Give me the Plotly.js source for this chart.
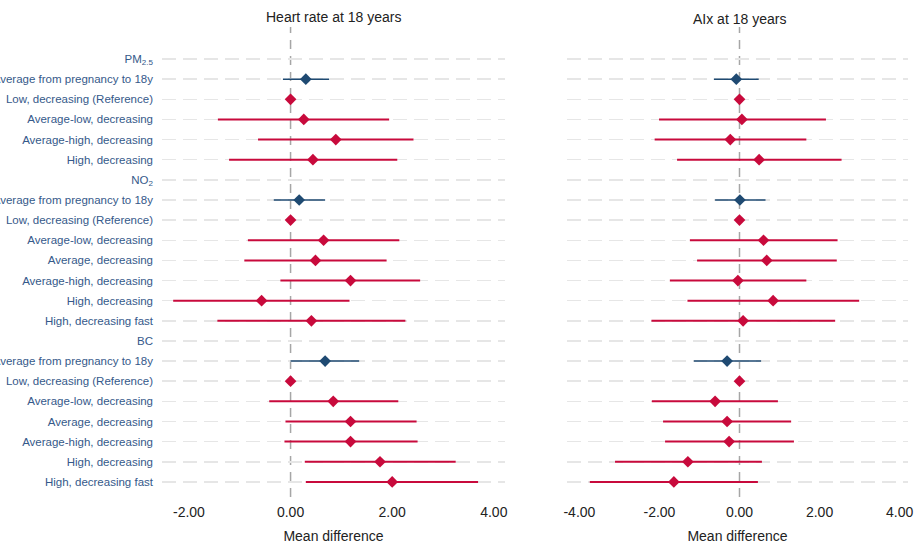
<!DOCTYPE html>
<html>
<head>
<meta charset="utf-8">
<script src="https://cdn.plot.ly/plotly-3.0.1.min.js"></script>
<style>
  html, body { margin: 0; padding: 0; background: #fff; }
  #chart { width: 918px; height: 546px; }
</style>
</head>
<body>
<div id="chart"></div>
<script>
// Row labels, top to bottom (header rows carry no estimate)
const rowLabels = [
  "PM<sub>2.5</sub>",
  "Average from pregnancy to 18y",
  "Low, decreasing (Reference)",
  "Average-low, decreasing",
  "Average-high, decreasing",
  "High, decreasing",
  "NO<sub>2</sub>",
  "Average from pregnancy to 18y",
  "Low, decreasing (Reference)",
  "Average-low, decreasing",
  "Average, decreasing",
  "Average-high, decreasing",
  "High, decreasing",
  "High, decreasing fast",
  "BC",
  "Average from pregnancy to 18y",
  "Low, decreasing (Reference)",
  "Average-low, decreasing",
  "Average, decreasing",
  "Average-high, decreasing",
  "High, decreasing",
  "High, decreasing fast"
];

// Row kind: header, average exposure, or trajectory
const rowKind = [
  "header", "average", "traj", "traj", "traj", "traj",
  "header", "average", "traj", "traj", "traj", "traj", "traj", "traj",
  "header", "average", "traj", "traj", "traj", "traj", "traj", "traj"
];

// Heart rate at 18 years: mean difference and 95% CI
const hrEst = [null, 0.30, 0.00, 0.26, 0.89, 0.44,
               null, 0.17, 0.00, 0.65, 0.49, 1.18, -0.57, 0.41,
               null, 0.68, 0.00, 0.84, 1.18, 1.18, 1.76, 2.00];
const hrLow = [null, -0.15, 0.00, -1.43, -0.64, -1.21,
               null, -0.33, 0.00, -0.84, -0.91, -0.20, -2.31, -1.44,
               null, 0.00, 0.00, -0.42, -0.10, -0.12, 0.28, 0.30];
const hrHigh = [null, 0.76, 0.00, 1.94, 2.42, 2.10,
                null, 0.68, 0.00, 2.14, 1.89, 2.55, 1.16, 2.26,
                null, 1.35, 0.00, 2.12, 2.48, 2.50, 3.25, 3.69];

// AIx at 18 years: mean difference and 95% CI
const aixEst = [null, -0.08, 0.00, 0.06, -0.23, 0.49,
                null, 0.01, 0.00, 0.60, 0.68, -0.04, 0.84, 0.09,
                null, -0.31, 0.00, -0.61, -0.31, -0.26, -1.29, -1.64];
const aixLow = [null, -0.64, 0.00, -2.01, -2.12, -1.56,
                null, -0.61, 0.00, -1.24, -1.06, -1.74, -1.30, -2.20,
                null, -1.14, 0.00, -2.19, -1.91, -1.86, -3.11, -3.74];
const aixHigh = [null, 0.48, 0.00, 2.16, 1.67, 2.55,
                 null, 0.65, 0.00, 2.45, 2.43, 1.67, 2.99, 2.39,
                 null, 0.54, 0.00, 0.96, 1.29, 1.36, 0.56, 0.46];

const xTicks = [-4, -2, 0, 2, 4];
const xTickText = ["-4.00", "-2.00", "0.00", "2.00", "4.00"];

const RED = "#c80a3c";
const BLUE = "#1f4a72";

const rowIdx = rowLabels.map((_, i) => i);

function pointTrace(est, lo, hi, kind, color, lw, xa, ya) {
  const x = [], y = [], plus = [], minus = [];
  est.forEach((v, i) => {
    if (rowKind[i] !== kind || v === null) return;
    x.push(v);
    y.push(i);
    plus.push(hi[i] - v);
    minus.push(v - lo[i]);
  });
  return {
    type: "scatter",
    mode: "markers",
    x: x, y: y,
    xaxis: xa, yaxis: ya,
    marker: { symbol: "diamond", size: 9, color: color },
    error_x: {
      type: "data", symmetric: false,
      array: plus, arrayminus: minus,
      color: color, thickness: lw, width: 0
    },
    hoverinfo: "x",
    showlegend: false
  };
}

const traces = [
  pointTrace(hrEst, hrLow, hrHigh, "traj", RED, 2, "x", "y"),
  pointTrace(hrEst, hrLow, hrHigh, "average", BLUE, 1.5, "x", "y"),
  pointTrace(aixEst, aixLow, aixHigh, "traj", RED, 2, "x2", "y2"),
  pointTrace(aixEst, aixLow, aixHigh, "average", BLUE, 1.5, "x2", "y2")
];

const W = 918, H = 546;
const yDomain = [(H - 497) / H, (H - 27) / H];
const yRange = [21.75, -1.59];
const FONT = "Liberation Sans, Arial, sans-serif";

const xAxisCommon = {
  tickvals: xTicks,
  ticktext: xTickText,
  showgrid: false,
  zeroline: false,
  showline: false,
  ticks: "",
  ticklabelstandoff: 5,
  tickfont: { family: FONT, size: 14, color: "#222" },
  title: {
    text: "Mean difference",
    font: { family: FONT, size: 14, color: "#222" },
    standoff: 12
  },
  fixedrange: true
};

const yAxisCommon = {
  range: yRange,
  domain: yDomain,
  tickvals: rowIdx,
  showgrid: true,
  gridcolor: "#e6e6e6",
  gridwidth: 1.5,
  griddash: "14px,7px",
  zeroline: false,
  showline: false,
  ticks: "",
  fixedrange: true
};

const layout = {
  width: W,
  height: H,
  margin: { l: 0, r: 0, t: 0, b: 0 },
  paper_bgcolor: "#fff",
  plot_bgcolor: "#fff",
  xaxis: Object.assign({}, xAxisCommon, {
    domain: [162 / W, 505 / W],
    range: [-2.53, 4.22],
    anchor: "y"
  }),
  xaxis2: Object.assign({}, xAxisCommon, {
    domain: [567 / W, 908 / W],
    range: [-4.31, 4.21],
    anchor: "y2"
  }),
  yaxis: Object.assign({}, yAxisCommon, {
    anchor: "x",
    ticktext: rowLabels,
    ticklabelstandoff: 8,
    tickfont: { family: FONT, size: 11.5, color: "#35598a" }
  }),
  yaxis2: Object.assign({}, yAxisCommon, {
    anchor: "x2",
    showticklabels: false
  }),
  shapes: [
    { type: "line", xref: "x", yref: "paper", x0: 0, x1: 0, y0: yDomain[0], y1: yDomain[1],
      line: { color: "#a6a6a6", width: 1.5, dash: "9px,7px" }, layer: "below" },
    { type: "line", xref: "x2", yref: "paper", x0: 0, x1: 0, y0: yDomain[0], y1: yDomain[1],
      line: { color: "#a6a6a6", width: 1.5, dash: "9px,7px" }, layer: "below" }
  ],
  annotations: [
    { text: "Heart rate at 18 years", xref: "paper", yref: "paper",
      x: 333.5 / W, y: 1 - 17 / H, xanchor: "center", yanchor: "middle", showarrow: false,
      font: { family: FONT, size: 14, color: "#222" } },
    { text: "AIx at 18 years", xref: "paper", yref: "paper",
      x: 739 / W, y: 1 - 19 / H, xanchor: "center", yanchor: "middle", showarrow: false,
      font: { family: FONT, size: 14, color: "#222" } }
  ]
};

Plotly.newPlot("chart", traces, layout, { displayModeBar: false, staticPlot: true });
</script>
</body>
</html>
